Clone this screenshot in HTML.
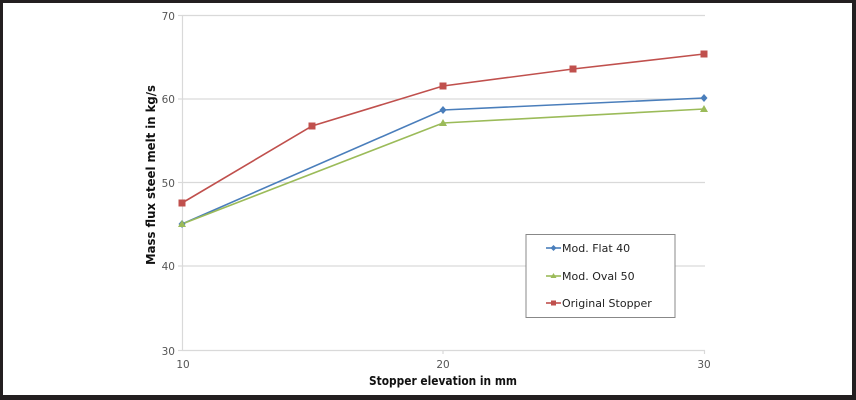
<!DOCTYPE html>
<html><head><meta charset="utf-8"><style>
html,body{margin:0;padding:0;background:#fff}
svg{display:block}
text{font-family:"DejaVu Sans","Liberation Sans",sans-serif}
</style></head><body>
<svg width="856" height="400" viewBox="0 0 856 400" xmlns="http://www.w3.org/2000/svg">
<rect x="0" y="0" width="856" height="400" fill="#231f20"/>
<rect x="3" y="3" width="849" height="392" fill="#fff"/>
<g stroke="#d9d9d9" stroke-width="1.2">
<line x1="182" y1="15.5" x2="705" y2="15.5"/>
<line x1="182" y1="99" x2="705" y2="99"/>
<line x1="182" y1="182.5" x2="705" y2="182.5"/>
<line x1="182" y1="266" x2="705" y2="266"/>
<line x1="182" y1="350.5" x2="705" y2="350.5"/>
<line x1="182.5" y1="15" x2="182.5" y2="351"/>
<line x1="178" y1="15.5" x2="182" y2="15.5"/><line x1="178" y1="99" x2="182" y2="99"/><line x1="178" y1="182.5" x2="182" y2="182.5"/><line x1="178" y1="266" x2="182" y2="266"/><line x1="178" y1="350.5" x2="182" y2="350.5"/>
<line x1="443" y1="350" x2="443" y2="354"/><line x1="704.5" y1="350" x2="704.5" y2="354"/>
</g>
<g font-size="10.5" fill="#555" text-anchor="end">
<text x="175" y="20">70</text><text x="175" y="103">60</text><text x="175" y="187">50</text><text x="175" y="270">40</text><text x="175" y="355">30</text>
</g>
<g font-size="10.5" fill="#555" text-anchor="middle">
<text x="183" y="368">10</text><text x="443" y="368">20</text><text x="704" y="368">30</text>
</g>
<text x="369" y="385" font-size="12.5" font-weight="bold" fill="#111" textLength="148" lengthAdjust="spacingAndGlyphs">Stopper elevation in mm</text>
<text transform="translate(155,265) rotate(-90)" font-size="12.5" font-weight="bold" fill="#111" textLength="180" lengthAdjust="spacingAndGlyphs">Mass flux steel melt in kg/s</text>
<polyline points="182,224 443,110 704,98" fill="none" stroke="#4a7ebb" stroke-width="1.6"/>
<polyline points="182,224 443,123 704,109" fill="none" stroke="#9bbb59" stroke-width="1.6"/>
<polyline points="182,203 312,126 443,86 573,69 704,54" fill="none" stroke="#c0504d" stroke-width="1.6"/>
<g fill="#4a7ebb"><path d="M182,220 l3.5,4 -3.5,4 -3.5,-4z"/><path d="M443,106 l3.5,4 -3.5,4 -3.5,-4z"/><path d="M704,94 l3.5,4 -3.5,4 -3.5,-4z"/></g>
<g fill="#9bbb59"><path d="M182,220 l4,7 -8,0z"/><path d="M443,119 l4,7 -8,0z"/><path d="M704,105 l4,7 -8,0z"/></g>
<g fill="#c0504d"><rect x="178.5" y="199.5" width="7" height="7"/><rect x="308.5" y="122.5" width="7" height="7"/><rect x="439.5" y="82.5" width="7" height="7"/><rect x="569.5" y="65.5" width="7" height="7"/><rect x="700.5" y="50.5" width="7" height="7"/></g>
<rect x="526" y="234.5" width="149" height="83" fill="#fff" stroke="#888" stroke-width="1"/>
<line x1="546" y1="248" x2="561" y2="248" stroke="#4a7ebb" stroke-width="1.6"/><path d="M553.5,245 l3,3 -3,3 -3,-3z" fill="#4a7ebb"/>
<line x1="546" y1="276" x2="561" y2="276" stroke="#9bbb59" stroke-width="1.6"/><path d="M553.5,273 l3,5 -6,0z" fill="#9bbb59"/>
<line x1="546" y1="303" x2="561" y2="303" stroke="#c0504d" stroke-width="1.6"/><rect x="551" y="300.5" width="5" height="5" fill="#c0504d"/>
<g font-size="11" fill="#222"><text x="562" y="252">Mod. Flat 40</text><text x="562" y="280">Mod. Oval 50</text><text x="562" y="307">Original Stopper</text></g>
</svg>
</body></html>
